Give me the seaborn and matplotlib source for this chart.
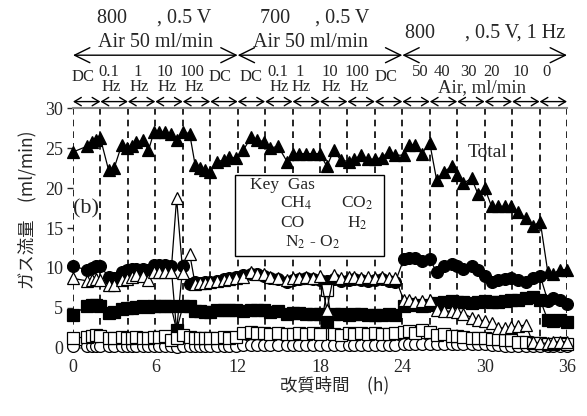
import matplotlib
matplotlib.use("Agg")
import matplotlib.pyplot as plt
from matplotlib.patches import Rectangle
import seaborn as sns

# sampling times (h)
times = [0, 1.0, 1.4, 1.7, 2.0,
         2.6, 3.0, 3.55, 3.9,
         4.3, 4.6, 5.1, 5.5, 5.9,
         6.3, 6.7, 7.15, 7.55, 8.0,
         8.5, 8.9, 9.25, 9.6, 10.0,
         10.5, 11.0, 11.4, 11.9,
         12.4, 13.0, 13.4, 13.9, 14.35, 14.95, 15.6,
         16.05, 16.5, 17.0, 17.5, 18.0,
         18.5, 19.0, 19.5, 20.1, 20.5, 21.0, 21.5, 22.0, 22.5, 23.0, 23.5,
         24.1, 24.45, 24.9, 25.4, 26.0,
         26.5, 27.0, 27.6, 28.0, 28.45, 29.05, 29.5, 30.0,
         30.5, 31.0, 31.5, 31.9, 32.45, 33.0, 33.5, 34.05,
         34.6, 35.0, 35.5, 36.0]

total = [24.5, 25.2, 25.8, 26.0, 26.2,
         22.2, 22.5, 25.4, 25.0,
         25.2, 25.7, 26.0, 24.7, 27.0,
         27.0, 27.0, 26.8, 26.0, 27.0,
         26.8, 22.9, 22.5, 22.2, 22.0,
         23.3, 23.5, 23.9, 23.7,
         24.7, 26.4, 26.0, 25.8, 25.0, 25.2, 23.3,
         24.3, 24.3, 24.3, 24.3, 24.3,
         22.7, 24.7, 23.5, 23.3, 23.6, 24.1, 23.6, 23.6, 23.8, 24.5, 24.1,
         24.1, 25.4, 25.4, 24.3, 25.6,
         21.0, 22.0, 22.7, 21.6, 20.6, 21.2, 19.3, 20.0,
         17.7, 17.7, 17.7, 17.7, 17.0, 16.2, 15.2, 15.8,
         9.5, 9.3, 9.8, 9.8]

filled_circle = [10.2, 9.8, 10.0, 10.2, 10.2,
                 8.9, 8.8, 9.5, 9.7,
                 9.9, 9.9, 9.9, 9.7, 10.4,
                 10.4, 10.4, 10.2, 2.2, 10.2,
                 8.0, 8.2, 8.1, 8.2, 8.3,
                 8.4, 8.6, 8.7, 8.9,
                 9.1, 9.3, 9.2, 9.0, 8.8, 8.6, 8.3,
                 8.5, 8.6, 8.7, 8.6, 8.5,
                 8.4, 8.6, 8.4, 8.5, 8.6, 8.5, 8.4, 8.5, 8.6, 8.4, 8.3,
                 11.1, 11.2, 11.2, 10.9, 11.1,
                 9.5, 10.2, 10.5, 10.2, 9.9, 10.2, 9.8, 9.0,
                 8.3, 8.5, 8.6, 8.7, 8.5, 8.3, 8.8, 9.0,
                 5.9, 6.3, 6.0, 5.5]

filled_square = [4.1, 5.3, 5.4, 5.4, 5.3,
                 4.4, 4.5, 4.9, 5.0,
                 5.0, 5.1, 5.2, 5.1, 5.3,
                 5.3, 5.2, 5.2, 2.2, 5.2,
                 5.2, 4.6, 4.6, 4.5, 4.5,
                 4.7, 4.8, 4.8, 4.7,
                 4.6, 4.8, 4.7, 4.7, 4.5, 4.6, 4.3,
                 4.4, 4.4, 4.3, 4.3, 4.2,
                 3.3, 4.3, 4.2, 4.1, 4.2, 4.2, 4.1, 4.1, 4.1, 4.2, 4.1,
                 5.3, 5.5, 5.4, 5.3, 5.4,
                 5.6, 5.8, 5.9, 5.7, 5.8, 5.6, 5.7, 5.9,
                 5.7, 5.8, 5.9, 6.0, 6.0, 6.2, 6.4, 6.0,
                 3.5, 3.4, 3.5, 3.3]

open_triangle = [8.7, 8.4, 8.5, 8.6, 8.5,
                 7.9, 7.9, 8.5, 8.6,
                 8.9, 9.1, 9.0, 8.5, 9.5,
                 9.5, 9.5, 9.5, 18.7, 9.4,
                 11.8, 8.0, 8.1, 8.1, 8.2,
                 8.4, 8.5, 8.6, 8.7,
                 8.9, 9.5, 9.3, 9.2, 8.9, 8.8, 8.5,
                 8.7, 8.8, 8.9, 8.8, 9.0,
                 4.8, 9.1, 8.8, 8.9, 8.9, 8.8, 8.9, 8.8, 8.9, 8.8, 8.7,
                 6.0, 6.0, 5.8, 5.9, 6.0,
                 4.8, 4.6, 4.6, 4.5, 4.3, 3.8, 3.5, 3.4,
                 3.1, 2.5, 2.5, 2.6, 2.7, 2.9, 0.7, 0.6,
                 0.6, 0.7, 0.8, 0.8]

open_square = [1.2, 1.4, 1.5, 1.6, 1.5,
               1.3, 1.3, 1.4, 1.3,
               1.3, 1.4, 1.3, 1.3, 1.4,
               1.4, 1.5, 1.0, 1.3, 1.6,
               1.4, 1.3, 1.3, 1.3, 1.3,
               1.3, 1.4, 1.3, 1.4,
               1.9, 2.0, 1.9, 1.9, 1.8, 1.9, 1.8,
               1.8, 1.9, 1.8, 1.9, 1.8,
               7.2, 1.8, 1.6, 1.9, 1.8, 1.9, 1.8, 1.9, 1.8, 1.8, 1.9,
               2.0, 2.1, 1.9, 2.2, 2.0,
               1.6, 1.7, 1.5, 1.5, 1.4, 1.3, 1.3, 1.2,
               1.1, 1.1, 1.0, 1.0, 0.7, 0.7, 0.6, 0.6,
               0.5, 0.5, 0.6, 0.5]

open_circle = [0.3, 0.3, 0.2, 0.3, 0.3,
               0.3, 0.3, 0.3, 0.3,
               0.3, 0.3, 0.3, 0.3, 0.3,
               0.3, 0.3, 0.3, 0.1, 0.3,
               0.3, 0.3, 0.3, 0.3, 0.3,
               0.3, 0.3, 0.3, 0.3,
               0.4, 0.4, 0.4, 0.4, 0.4, 0.4, 0.4,
               0.4, 0.4, 0.4, 0.4, 0.4,
               0.4, 0.4, 0.4, 0.4, 0.4, 0.4, 0.4, 0.4, 0.4, 0.4, 0.4,
               0.5, 0.5, 0.5, 0.5, 0.5,
               0.5, 0.5, 0.5, 0.5, 0.5, 0.5, 0.5, 0.5,
               0.4, 0.4, 0.3, 0.3, 0.3, 0.3, 0.3, 0.3,
               0.3, 0.3, 0.3, 0.3]

# segment labels above the plot
block_texts = ["800      , 0.5 V", "700     , 0.5 V", "800      , 0.5 V, 1 Hz"]
seg_top = ["DC", "0.1", "1", "10", "100", "DC",
           "DC", "0.1", "1", "10", "100", "DC",
           "50", "40", "30", "20", "10", "0"]
seg_bottom = ["", "Hz", "Hz", "Hz", "Hz", "",
              "", "Hz", "Hz", "Hz", "Hz", ""]
seg_x = [0.75, 2.6, 4.7, 6.7, 8.7, 10.7,
         13.0, 14.9, 16.5, 18.7, 20.7, 22.8,
         25.3, 26.9, 28.8, 30.5, 32.6, 34.5]

sns.set_style("white")
plt.rcParams['font.family'] = ['Liberation Serif', 'DejaVu Serif']
plt.rcParams['mathtext.fontset'] = 'stix'

fig = plt.figure(figsize=(5.87, 4.16), dpi=100)
ax = fig.add_axes([73 / 587, 68 / 416, 494 / 587, 240 / 416])

# dashed segment boundaries
for b in range(0, 37, 2):
    ax.axvline(b, color='black', ls=(0, (4, 3)), lw=1.2, zorder=1)

series = [
    (filled_circle, 'o', 'black'),
    (filled_square, 's', 'black'),
    (open_circle, 'o', 'white'),
    (open_square, 's', 'white'),
    (open_triangle, '^', 'white'),
    (total, '^', 'black'),
]
for i, (vals, mk, fc) in enumerate(series):
    sns.lineplot(x=times, y=vals, ax=ax, color='black', lw=0.9, marker=mk,
                 markersize=8.5, markerfacecolor=fc, markeredgecolor='black',
                 markeredgewidth=0.9, estimator=None, sort=False,
                 clip_on=False, zorder=3 + i)

ax.set_xlim(0, 36)
ax.set_ylim(0, 30)
ax.set_xticks(range(0, 37, 6))
ax.set_yticks(range(0, 31, 5))
ax.tick_params(axis='x', length=0, pad=8, labelsize=13)
ax.tick_params(axis='y', length=4, width=1, direction='out', pad=3,
               labelsize=13, left=True)
ax.set_xlabel('')
ax.set_ylabel('')
for side in ['left', 'right']:
    ax.spines[side].set_visible(False)
for side in ['top', 'bottom']:
    ax.spines[side].set_color('#888888')
    ax.spines[side].set_linewidth(1.5)

# key box
ax.add_patch(Rectangle((11.8, 11.5), 10.9, 10.1, facecolor='white',
                       edgecolor='black', lw=1, zorder=20))
fs_key = 12.5
ax.text(12.9, 20.4, "Key  Gas", fontsize=fs_key, va='center', zorder=21)
ax.text(15.1, 18.1, "CH$_4$", fontsize=fs_key, va='center', zorder=21)
ax.text(19.5, 18.1, "CO$_2$", fontsize=fs_key, va='center', zorder=21)
ax.text(15.1, 15.6, "CO", fontsize=fs_key, va='center', zorder=21)
ax.text(20.0, 15.6, "H$_2$", fontsize=fs_key, va='center', zorder=21)
ax.text(15.45, 13.25, "N$_2$ - O$_2$", fontsize=fs_key, va='center', zorder=21)

ax.text(0.95, 17.4, "(b)", fontsize=16, ha='center', va='center', zorder=21)
ax.text(30.2, 24.4, "Total", fontsize=14, ha='center', va='center', zorder=21)

# small arrows per segment
for b in range(0, 36, 2):
    ax.annotate('', xy=(b, 30.8), xytext=(b + 2, 30.8), annotation_clip=False,
                arrowprops=dict(arrowstyle='<->,head_length=0.5,head_width=0.3',
                                mutation_scale=10, lw=1, color='black',
                                shrinkA=0, shrinkB=0))
# big arrows per block
for b in (0, 12, 24):
    ax.annotate('', xy=(b, 36.6), xytext=(b + 12, 36.6), annotation_clip=False,
                arrowprops=dict(arrowstyle='<->,head_length=0.55,head_width=0.27',
                                mutation_scale=20, lw=1, color='black',
                                shrinkA=0, shrinkB=0))

fs_block = 14.5
ax.text(5.9, 41.25, block_texts[0], fontsize=fs_block, ha='center', va='center', clip_on=False)
ax.text(6.0, 38.25, "Air 50 ml/min", fontsize=fs_block, ha='center', va='center', clip_on=False)
ax.text(17.6, 41.25, block_texts[1], fontsize=fs_block, ha='center', va='center', clip_on=False)
ax.text(17.3, 38.25, "Air 50 ml/min", fontsize=fs_block, ha='center', va='center', clip_on=False)
ax.text(30.0, 39.4, block_texts[2], fontsize=fs_block, ha='center', va='center', clip_on=False)

fs_seg = 12
for i, (xp, lab) in enumerate(zip(seg_x, seg_top)):
    if i < 12:
        yp = 33.9 if lab == "DC" else 34.5
        ax.text(xp, yp, lab, fontsize=fs_seg, ha='center', va='center', clip_on=False)
        if seg_bottom[i]:
            ax.text(xp + 0.15, 32.6, seg_bottom[i], fontsize=fs_seg, ha='center',
                    va='center', clip_on=False)
    else:
        ax.text(xp, 34.5, lab, fontsize=12, ha='center', va='center', clip_on=False)
ax.text(29.8, 32.6, "Air, ml/min", fontsize=13.5, ha='center', va='center', clip_on=False)

cjk = ['Noto Sans CJK JP', 'DejaVu Sans']
fig.text(27 / 587, 1 - 210 / 416, "ガス流量　(ml/min)", rotation=90, family=cjk,
         fontsize=12.5, ha='center', va='center')
fig.text(335 / 587, 1 - 385 / 416, "改質時間　(h)", family=cjk,
         fontsize=12.5, ha='center', va='center')

fig.savefig("out.png", dpi=100)
